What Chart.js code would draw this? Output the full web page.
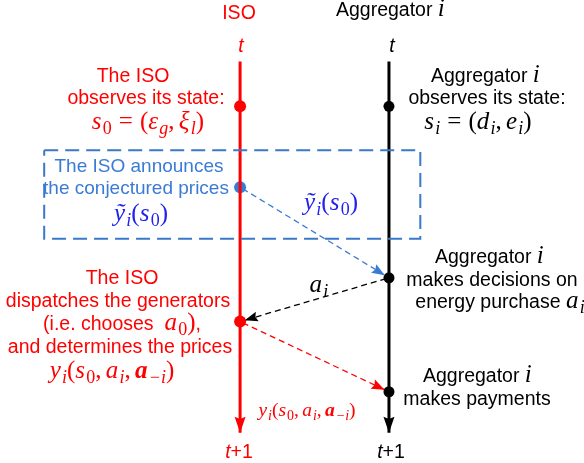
<!DOCTYPE html>
<html>
<head>
<meta charset="utf-8">
<script src="https://cdn.jsdelivr.net/npm/chart.js@4.4.1/dist/chart.umd.min.js"></script>
<style>
  html, body { margin: 0; padding: 0; background: #fff; }
</style>
</head>
<body>
<canvas id="flow" width="584" height="463"></canvas>
<script>
// two timelines, time runs downwards
const actorNames = ['ISO', 'Aggregator i'];
const actorX = [239, 391];
const actorColors = ['#ff0000', '#000000'];
const timeStart = 57;
const timeEnd = 438;

// event times on each timeline
const isoEvents = [103, 186, 324];
const isoEventColors = ['#ff0000', '#3a7bd5', '#ff0000'];
const aggEvents = [103, 279, 396];

// messages: [fromActor, fromTime, toActor, toTime]
const messages = [[0, 186, 1, 279], [1, 279, 0, 324], [0, 324, 1, 396]];
const messageColors = ['#3a7bd5', '#000000', '#ff0000'];

// "announce" box corners
const boxX = [39, 423];
const boxY = [148, 239];

const RED = '#ff0000', BLUE = '#3a7bd5', MBLUE = '#2222ee', BLACK = '#000';

// math pieces reused below
const EQ = [[0.28, 'gap'], ['=', 'r'], [0.28, 'gap']];
const COMMA = [[',', 'r'], [0.17, 'gap']];
const YTILDE = [['ỹ', 'm'], ['i', '_m'], ['(', 'r'], ['s', 'm'], ['0', '_r'], [')', 'r']];
const PRICE = [['y', 'm'], ['i', '_m'], ['(', 'r'], ['s', 'm'], ['0', '_r']].concat(COMMA,
  [['a', 'm'], ['i', '_m']], COMMA, [['a', 'b'], ['−i', '_m'], [')', 'r']]);

// text labels (parts: [text, style])
const labels = [
  { x: 239, y: 19, c: RED, parts: [['ISO', 's']] },
  { x: 391, y: 16, c: BLACK, parts: [['Aggregator ', 's'], ['i', 'm']] },
  { x: 241, y: 52, c: RED, parts: [['t', 'si']] },
  { x: 392, y: 52, c: BLACK, parts: [['t', 'si']] },
  { x: 239, y: 458, c: RED, parts: [['t', 'si'], ['+1', 's']] },
  { x: 391, y: 458, c: BLACK, parts: [['t', 'si'], ['+1', 's']] },

  { x: 133, y: 82, c: RED, parts: [['The ISO', 's']] },
  { x: 146, y: 104, c: RED, parts: [['observes its state:', 's']] },
  { x: 148, y: 129, c: RED, parts: [['s', 'm'], ['0', '_r']].concat(EQ, [['(', 'r'], ['ε', 'm'], ['g', '_m']], COMMA, [['ξ', 'm'], ['l', '_m'], [')', 'r']]) },

  { x: 486, y: 82, c: BLACK, parts: [['Aggregator ', 's'], ['i', 'm']] },
  { x: 487, y: 104, c: BLACK, parts: [['observes its state:', 's']] },
  { x: 478, y: 129, c: BLACK, parts: [['s', 'm'], ['i', '_m']].concat(EQ, [['(', 'r'], ['d', 'm'], ['i', '_m']], COMMA, [['e', 'm'], ['i', '_m'], [')', 'r']]) },

  { x: 139, y: 172, c: BLUE, size: 19, parts: [['The ISO announces', 's']] },
  { x: 136, y: 194, c: BLUE, size: 19, parts: [['the conjectured prices', 's']] },
  { x: 141, y: 221, c: MBLUE, parts: YTILDE },
  { x: 331, y: 210, c: MBLUE, parts: YTILDE },

  { x: 490, y: 263, c: BLACK, parts: [['Aggregator ', 's'], ['i', 'm']] },
  { x: 492, y: 286, c: BLACK, parts: [['makes decisions on', 's']] },
  { x: 500, y: 308, c: BLACK, parts: [['energy purchase ', 's'], ['a', 'm'], ['i', '_m']] },
  { x: 319, y: 292, c: BLACK, parts: [['a', 'm'], ['i', '_m']] },

  { x: 122, y: 284, c: RED, parts: [['The ISO', 's']] },
  { x: 118, y: 307, c: RED, parts: [['dispatches the generators', 's']] },
  { x: 122, y: 330, c: RED, parts: [['(i.e. chooses  ', 's'], ['a', 'm'], ['0', '_r'], [')', 'r'], [',', 's']] },
  { x: 120, y: 353, c: RED, parts: [['and determines the prices', 's']] },
  { x: 112, y: 378, c: RED, parts: PRICE },
  { x: 307, y: 416, c: RED, msize: 19.5, parts: PRICE },

  { x: 478, y: 382, c: BLACK, parts: [['Aggregator ', 's'], ['i', 'm']] },
  { x: 477, y: 405, c: BLACK, parts: [['makes payments', 's']] }
];

function fontFor(style, size, msize) {
  const sans = '"Liberation Sans", Arial, sans-serif';
  const serif = '"Liberation Serif", "Times New Roman", serif';
  const sub = Math.round(msize * 0.72);
  switch (style) {
    case 's': return { f: size + 'px ' + sans, dy: 0 };
    case 'si': return { f: 'italic ' + size + 'px ' + sans, dy: 0 };
    case 'm': return { f: 'italic ' + msize + 'px ' + serif, dy: 0 };
    case 'r': return { f: msize + 'px ' + serif, dy: 0 };
    case 'b': return { f: 'italic bold ' + msize + 'px ' + serif, dy: 0 };
    case '_m': return { f: 'italic ' + sub + 'px ' + serif, dy: msize * 0.2 };
    case '_r': return { f: sub + 'px ' + serif, dy: msize * 0.2 };
  }
}

function drawRich(ctx, lab) {
  const size = lab.size || 19.5, msize = lab.msize || 25;
  const pieces = lab.parts.map(function(p) {
    if (p[1] === 'gap') return { t: '', f: null, dy: 0, w: p[0] * msize };
    const fo = fontFor(p[1], size, msize);
    ctx.font = fo.f;
    // a little extra room after italic math letters
    const extra = (p[1] === 'm' || p[1] === 'b') ? msize * 0.05 : 0;
    return { t: p[0], f: fo.f, dy: fo.dy, w: ctx.measureText(p[0]).width + extra };
  });
  const total = pieces.reduce(function(s, p) { return s + p.w; }, 0);
  let x = lab.x - total / 2;
  ctx.fillStyle = lab.c;
  ctx.textBaseline = 'alphabetic';
  ctx.textAlign = 'left';
  pieces.forEach(function(p) {
    if (p.f) {
      ctx.font = p.f;
      ctx.fillText(p.t, x, lab.y + p.dy);
    }
    x += p.w;
  });
}

// shorten a segment so arrows don't run into the dots
function trimSeg(x0, y0, x1, y1, a, b) {
  const dx = x1 - x0, dy = y1 - y0, len = Math.hypot(dx, dy);
  const ux = dx / len, uy = dy / len;
  return [{ x: x0 + ux * a, y: y0 + uy * a }, { x: x1 - ux * b, y: y1 - uy * b }];
}

const datasets = [];

// dashed box
datasets.push({
  data: [
    { x: boxX[0], y: boxY[0] }, { x: boxX[1], y: boxY[0] },
    { x: boxX[1], y: boxY[1] }, { x: boxX[0], y: boxY[1] }, { x: boxX[0], y: boxY[0] }
  ],
  showLine: true, borderColor: '#3a78c9', borderWidth: 2, borderDash: [14, 7],
  pointRadius: 0, fill: false
});

// timelines
actorX.forEach(function(x, i) {
  datasets.push({
    data: [{ x: x, y: timeStart }, { x: x, y: timeEnd - 8 }, { x: x, y: timeEnd }],
    showLine: true, borderColor: actorColors[i], borderWidth: 3,
    pointRadius: 0, arrow: { len: 16, half: 5.5, color: actorColors[i] }
  });
});

// messages
messages.forEach(function(m, i) {
  const seg = trimSeg(actorX[m[0]], m[1], actorX[m[2]], m[3], 3, 5);
  datasets.push({
    data: seg, showLine: true, borderColor: messageColors[i], borderWidth: 1.3,
    borderDash: [6, 4], pointRadius: 0,
    arrow: { len: 13, half: 5, color: messageColors[i] }
  });
});

// events
datasets.push({
  data: isoEvents.map(function(t) { return { x: actorX[0], y: t }; }),
  pointRadius: 6, pointBackgroundColor: isoEventColors, pointBorderWidth: 0, showLine: false
});
datasets.push({
  data: aggEvents.map(function(t) { return { x: actorX[1], y: t }; }),
  pointRadius: 5.5, pointBackgroundColor: '#000', pointBorderWidth: 0, showLine: false
});

const arrowPlugin = {
  id: 'arrows',
  afterDatasetsDraw: function(chart) {
    const ctx = chart.ctx;
    chart.data.datasets.forEach(function(ds, i) {
      if (!ds.arrow) return;
      const pts = chart.getDatasetMeta(i).data;
      const a = pts[pts.length - 2], b = pts[pts.length - 1];
      const ang = Math.atan2(b.y - a.y, b.x - a.x);
      const L = ds.arrow.len, H = ds.arrow.half;
      ctx.save();
      ctx.translate(b.x, b.y);
      ctx.rotate(ang);
      ctx.beginPath();
      ctx.moveTo(0, 0);
      ctx.lineTo(-L, -H);
      ctx.lineTo(-L * 0.85, 0);
      ctx.lineTo(-L, H);
      ctx.closePath();
      ctx.fillStyle = ds.arrow.color;
      ctx.fill();
      ctx.restore();
    });
  }
};

const textPlugin = {
  id: 'texts',
  afterDraw: function(chart) {
    const ctx = chart.ctx;
    ctx.save();
    labels.forEach(function(l) { drawRich(ctx, l); });
    ctx.restore();
  }
};

new Chart(document.getElementById('flow'), {
  type: 'scatter',
  data: { datasets: datasets },
  options: {
    responsive: false,
    animation: false,
    devicePixelRatio: 1,
    layout: { padding: 0 },
    plugins: { legend: { display: false }, tooltip: { enabled: false } },
    scales: {
      x: { type: 'linear', min: 0, max: 584, display: false },
      y: { type: 'linear', min: 0, max: 463, reverse: true, display: false }
    }
  },
  plugins: [arrowPlugin, textPlugin]
});
</script>
</body>
</html>
